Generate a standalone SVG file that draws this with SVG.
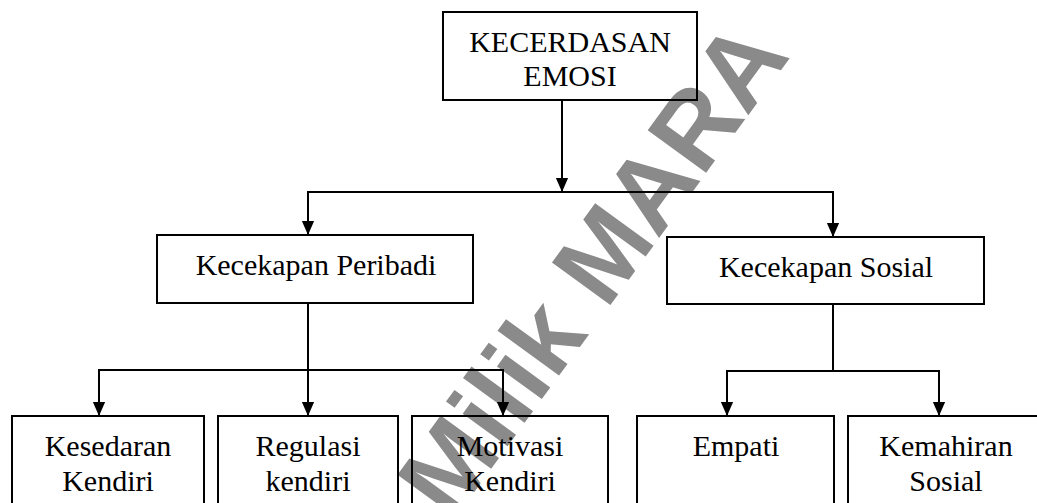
<svg xmlns="http://www.w3.org/2000/svg" width="1037" height="503" viewBox="0 0 1037 503">
  <defs>
    <marker id="arrow" markerUnits="userSpaceOnUse" markerWidth="14" markerHeight="16" refX="16" refY="7" orient="auto" viewBox="0 0 16 14">
      <path d="M0,0 L16,7 L0,14 Z" fill="#000"/>
    </marker>
    <style>
      .box { fill: none; stroke: #000; stroke-width: 2; }
      .lbl { font-family: "Liberation Serif", "DejaVu Serif", serif; font-size: 30px; fill: #000; text-anchor: middle; }
      .conn { fill: none; stroke: #000; stroke-width: 2; }
      .wm { font-family: "Liberation Sans", "DejaVu Sans", sans-serif; font-size: 105px; font-weight: bold; fill: #8a8a8a; text-anchor: middle; }
    </style>
  </defs>
  <rect width="1037" height="503" fill="#fff"/>

  <text class="wm" x="0" y="0" transform="translate(592,268) rotate(-54)" dominant-baseline="central">Milik MARA</text>

  <g id="connectors">
    <path class="conn" d="M562,101 V192" marker-end="url(#arrow)"/>
    <path class="conn" d="M562,192 H308 V235" marker-end="url(#arrow)"/>
    <path class="conn" d="M562,192 H833 V237" marker-end="url(#arrow)"/>
    <path class="conn" d="M308,303 V370 H99 V416" marker-end="url(#arrow)"/>
    <path class="conn" d="M308,370 V416" marker-end="url(#arrow)"/>
    <path class="conn" d="M308,370 H503 V416" marker-end="url(#arrow)"/>
    <path class="conn" d="M833,304 V371 H727 V416" marker-end="url(#arrow)"/>
    <path class="conn" d="M833,371 H939 V416" marker-end="url(#arrow)"/>
  </g>

  <g id="node-kecerdasan-emosi">
    <rect class="box" x="443" y="12" width="254" height="88"/>
    <text class="lbl" x="570" y="52">KECERDASAN</text>
    <text class="lbl" x="570" y="86">EMOSI</text>
  </g>
  <g id="node-kecekapan-peribadi">
    <rect class="box" x="157" y="235" width="316" height="68"/>
    <text class="lbl" x="316" y="275">Kecekapan Peribadi</text>
  </g>
  <g id="node-kecekapan-sosial">
    <rect class="box" x="667" y="237" width="317" height="67"/>
    <text class="lbl" x="826" y="277">Kecekapan Sosial</text>
  </g>
  <g id="node-kesedaran-kendiri">
    <rect class="box" x="12" y="416" width="192" height="100"/>
    <text class="lbl" x="108" y="456">Kesedaran</text>
    <text class="lbl" x="108" y="491">Kendiri</text>
  </g>
  <g id="node-regulasi-kendiri">
    <rect class="box" x="218" y="416" width="180" height="100"/>
    <text class="lbl" x="308" y="456">Regulasi</text>
    <text class="lbl" x="308" y="491">kendiri</text>
  </g>
  <g id="node-motivasi-kendiri">
    <rect class="box" x="412" y="416" width="196" height="100"/>
    <text class="lbl" x="510" y="456">Motivasi</text>
    <text class="lbl" x="510" y="491">Kendiri</text>
  </g>
  <g id="node-empati">
    <rect class="box" x="637" y="416" width="197" height="100"/>
    <text class="lbl" x="736" y="456">Empati</text>
  </g>
  <g id="node-kemahiran-sosial">
    <rect class="box" x="848" y="416" width="200" height="100"/>
    <text class="lbl" x="946" y="456">Kemahiran</text>
    <text class="lbl" x="946" y="491">Sosial</text>
  </g>
</svg>
